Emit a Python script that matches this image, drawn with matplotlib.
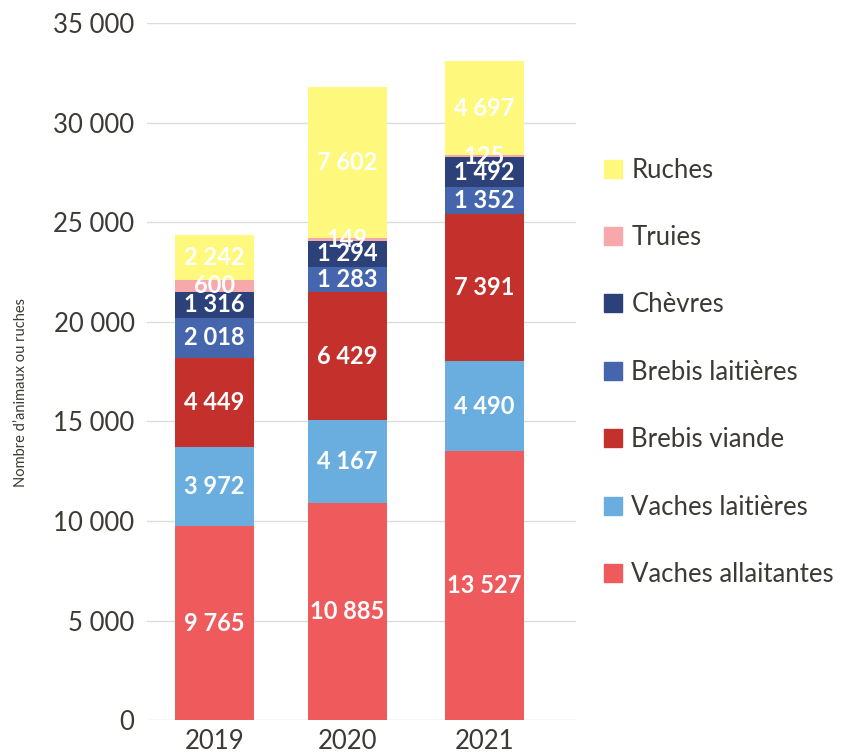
import numpy as np
import matplotlib.pyplot as plt
from matplotlib.patches import Patch

years = ['2019', '2020', '2021']
series = ['Vaches allaitantes', 'Vaches laitières', 'Brebis viande',
          'Brebis laitières', 'Chèvres', 'Truies', 'Ruches']
vaches_allaitantes = [9765, 10885, 13527]
vaches_laitieres = [3972, 4167, 4490]
brebis_viande = [4449, 6429, 7391]
brebis_laitieres = [2018, 1283, 1352]
chevres = [1316, 1294, 1492]
truies = [600, 149, 125]
ruches = [2242, 7602, 4697]
colors = ['#ef5a5c', '#6aaee0', '#c4302b', '#4565ad', '#2c4079', '#f7a8ab', '#fef97c']

values = [vaches_allaitantes, vaches_laitieres, brebis_viande,
          brebis_laitieres, chevres, truies, ruches]


def fmt(v):
    return '{:,}'.format(v).replace(',', ' ')


plt.rcParams['font.family'] = ['Lato', 'DejaVu Sans']
txt = '#3d3a35'

fig = plt.figure(figsize=(8.45, 7.55), dpi=100)
ax = fig.add_axes([0.174, 0.046, 0.508, 0.9235])

x = np.array([0, 0.985, 2.0])
bottom = np.zeros(3)
for name, vals, c in zip(series, values, colors):
    vals = np.array(vals)
    ax.bar(x, vals, 0.58, bottom=bottom, color=c, label=name, zorder=2)
    for xi, b, v in zip(x, bottom, vals):
        ax.text(xi, b + v / 2, fmt(v), ha='center', va='center',
                color='white', fontsize=17, fontweight='bold', zorder=3)
    bottom += vals

ax.set_xlim(-0.5, 2.68)
ax.set_ylim(0, 35000)
ax.set_yticks(np.arange(0, 35001, 5000))
ax.set_yticklabels([fmt(v) for v in range(0, 35001, 5000)])
ax.set_xticks(x)
ax.set_xticklabels(years)
ax.tick_params(length=0, labelsize=18.5, colors=txt, pad=9)
ax.tick_params(axis='x', pad=6)
ax.grid(axis='y', color='#dddddd', linewidth=1, zorder=0)
for s in ax.spines.values():
    s.set_visible(False)

fig.text(0.025, 0.48, "Nombre d’animaux ou ruches", rotation=90,
         ha='center', va='center', fontsize=10.5, color=txt)

handles = [Patch(color=c) for c in colors][::-1]
leg = fig.legend(handles, series[::-1], loc='center left',
                 bbox_to_anchor=(0.7, 0.507), frameon=False, fontsize=18.5,
                 labelcolor=txt, handlelength=0.7, handleheight=0.7,
                 handletextpad=0.35, labelspacing=1.65, borderpad=0)

fig.savefig('out.png', dpi=100)
